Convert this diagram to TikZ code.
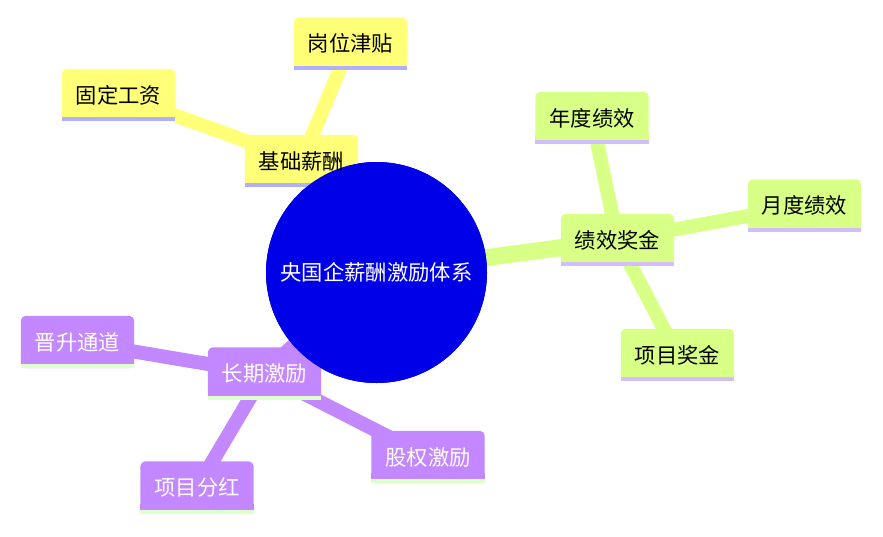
\documentclass[tikz,border=0pt]{standalone}
\usepackage{fontspec}
\setmainfont{Noto Sans CJK SC}
\usetikzlibrary{backgrounds}
\definecolor{rootblue}{RGB}{0,0,232}
\definecolor{yF}{HTML}{FFFF78}
\definecolor{yL}{HTML}{B0B0FF}
\definecolor{gF}{HTML}{D8FF86}
\definecolor{gL}{HTML}{D2BEFF}
\definecolor{pF}{HTML}{C387FF}
\definecolor{pL}{HTML}{DDFFC8}
\tikzset{
  leaf/.style={minimum width=113pt, minimum height=52pt, inner sep=0pt,
    font=\fontsize{21.3}{25}\selectfont},
  rootnode/.style={circle, fill=rootblue, minimum size=221pt, inner sep=0pt,
    text=white, font=\fontsize{21.3}{25}\selectfont},
  edge0/.style={line width=17pt},
  edge1/.style={line width=14pt},
}
\newcommand{\mmshape}[3]{%
  \fill[#2,rounded corners=5pt] (#1.south west) rectangle (#1.north east);
  \fill[#2] ([yshift=10pt]#1.south west) rectangle (#1.south east);
  \fill[#3] ([yshift=4pt]#1.south west) rectangle (#1.south east);
}
\begin{document}
\begin{tikzpicture}[x=1pt,y=-1pt]
\useasboundingbox (0,0) rectangle (883,536);
% nodes (text)
\node[rootnode] (root) at (376.5,272.5) {央国企薪酬激励体系};
\node[leaf] (jc) at (301.5,161) {基础薪酬};
\node[leaf] (gd) at (118.5,95) {固定工资};
\node[leaf] (gw) at (350.5,43.5) {岗位津贴};
\node[leaf] (jx) at (617.5,240) {绩效奖金};
\node[leaf] (nd) at (592,118) {年度绩效};
\node[leaf] (yd) at (804.5,205.5) {月度绩效};
\node[leaf] (xm) at (677.5,355) {项目奖金};
\node[leaf, text=white] (cq) at (264.5,373.5) {长期激励};
\node[leaf, text=white] (js) at (77.5,342) {晋升通道};
\node[leaf, text=white] (fh) at (197,487.5) {项目分红};
\node[leaf, text=white] (gq) at (428,457) {股权激励};
\begin{scope}[on background layer]
  % edges
  \draw[edge0,yF] (root.center) -- (jc.center);
  \draw[edge0,gF] (root.center) -- (jx.center);
  \draw[edge0,pF] (root.center) -- (cq.center);
  \draw[edge1,yF] (jc.center) -- (gd.center);
  \draw[edge1,yF] (jc.center) -- (gw.center);
  \draw[edge1,gF] (jx.center) -- (nd.center);
  \draw[edge1,gF] (jx.center) -- (yd.center);
  \draw[edge1,gF] (jx.center) -- (xm.center);
  \draw[edge1,pF] (cq.center) -- (js.center);
  \draw[edge1,pF] (cq.center) -- (fh.center);
  \draw[edge1,pF] (cq.center) -- (gq.center);
  % root circle
  \fill[rootblue] (root.center) circle[radius=110.5pt];
  % boxes
  \mmshape{jc}{yF}{yL}
  \mmshape{gd}{yF}{yL}
  \mmshape{gw}{yF}{yL}
  \mmshape{jx}{gF}{gL}
  \mmshape{nd}{gF}{gL}
  \mmshape{yd}{gF}{gL}
  \mmshape{xm}{gF}{gL}
  \mmshape{cq}{pF}{pL}
  \mmshape{js}{pF}{pL}
  \mmshape{fh}{pF}{pL}
  \mmshape{gq}{pF}{pL}
\end{scope}
\end{tikzpicture}
\end{document}
